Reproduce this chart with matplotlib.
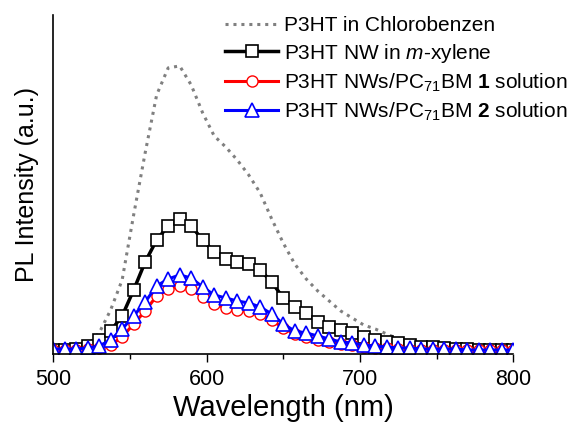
import numpy as np
import matplotlib.pyplot as plt

plt.rcParams['font.family'] = ['Liberation Sans', 'DejaVu Sans']
plt.rcParams['mathtext.fontset'] = 'custom'
plt.rcParams['mathtext.rm'] = 'Liberation Sans'
plt.rcParams['mathtext.it'] = 'Liberation Sans:italic'
plt.rcParams['mathtext.bf'] = 'Liberation Sans:bold'

# wavelength grid (nm), step 7.5
wavelength = [500, 507.5, 515, 522.5, 530, 537.5, 545, 552.5, 560, 567.5,
              575, 582.5, 590, 597.5, 605, 612.5, 620, 627.5, 635, 642.5,
              650, 657.5, 665, 672.5, 680, 687.5, 695, 702.5, 710, 717.5,
              725, 732.5, 740, 747.5, 755, 762.5, 770, 777.5, 785, 792.5, 800]

# PL intensity (a.u.)
p3ht_cb = [3, 3, 4, 9, 21, 44, 74, 139, 201, 259,
           286, 288, 269, 241, 218, 207, 194, 179, 161, 135,
           111, 90, 75, 63, 53, 43, 36, 29, 25, 20,
           15, 12, 9, 7, 6, 5, 4, 4, 4, 4, 4]
p3ht_nw = [4, 4, 5, 8, 14, 23, 38, 64, 92, 114,
           128, 135, 128, 114, 102, 95, 92, 90, 84, 72,
           56, 47, 41, 32, 27, 24, 21, 17, 14, 12,
           11, 9, 7, 7, 6, 5, 5, 4, 4, 4, 4]
nw_pcbm1 = [4, 4, 4, 5, 6, 9, 17, 30, 43, 58,
            65, 68, 65, 57, 50, 46, 44, 43, 40, 34,
            26, 20, 17, 14, 12, 10, 9, 7, 6, 6,
            5, 4, 4, 4, 4, 4, 4, 4, 4, 4, 4]
nw_pcbm2 = [5, 5, 5, 6, 8, 14, 25, 38, 52, 68,
            75, 79, 76, 67, 59, 56, 53, 51, 47, 40,
            30, 23, 21, 18, 15, 12, 11, 9, 8, 7,
            6, 6, 5, 5, 5, 5, 4, 4, 4, 4, 4]

labels = ['P3HT in Chlorobenzen',
          'P3HT NW in $\\it{m}$-xylene',
          'P3HT NWs/PC$_{71}$BM $\\mathbf{1}$ solution',
          'P3HT NWs/PC$_{71}$BM $\\mathbf{2}$ solution']

fig = plt.figure(figsize=(5.71, 4.26), dpi=100)
ax = fig.add_axes([0.093, 0.169, 0.806, 0.796])

ax.plot(wavelength, p3ht_cb, ls=(0, (1, 1.6)), color='#808080', lw=2.2,
        label=labels[0])
ax.plot(wavelength, p3ht_nw, '-s', color='black', lw=2.5, ms=8.4,
        mfc='white', mec='black', mew=1.2, label=labels[1])
ax.plot(wavelength, nw_pcbm1, '-o', color='red', lw=2.2, ms=8,
        mfc='white', mec='red', mew=1.0, label=labels[2])
ax.plot(wavelength, nw_pcbm2, '-^', color='blue', lw=2.2, ms=9.5,
        mfc='white', mec='blue', mew=1.2, label=labels[3])

ax.set_xlim(500, 800)
ax.set_ylim(0, 339)
ax.set_xticks([500, 600, 700, 800])
ax.set_xticks([550, 650, 750], minor=True)
ax.set_yticks([])
ax.tick_params(axis='x', which='major', direction='out', length=6, width=1,
               labelsize=15.5, pad=5)
ax.tick_params(axis='x', which='minor', direction='out', length=3.5, width=1)
for s in ['top', 'right']:
    ax.spines[s].set_visible(False)
for s in ['left', 'bottom']:
    ax.spines[s].set_linewidth(1.2)

ax.set_xlabel('Wavelength (nm)', fontsize=21, labelpad=3)
ax.set_ylabel('PL Intensity (a.u.)', fontsize=18, labelpad=10)

ax.legend(loc='upper right', bbox_to_anchor=(567 / 571, 1 - 16 / 426),
          bbox_transform=fig.transFigure, frameon=False, fontsize=15,
          handlelength=2.55, handletextpad=0.25, labelspacing=0.32,
          borderaxespad=0, borderpad=0)

fig.savefig('out.png', dpi=100)
